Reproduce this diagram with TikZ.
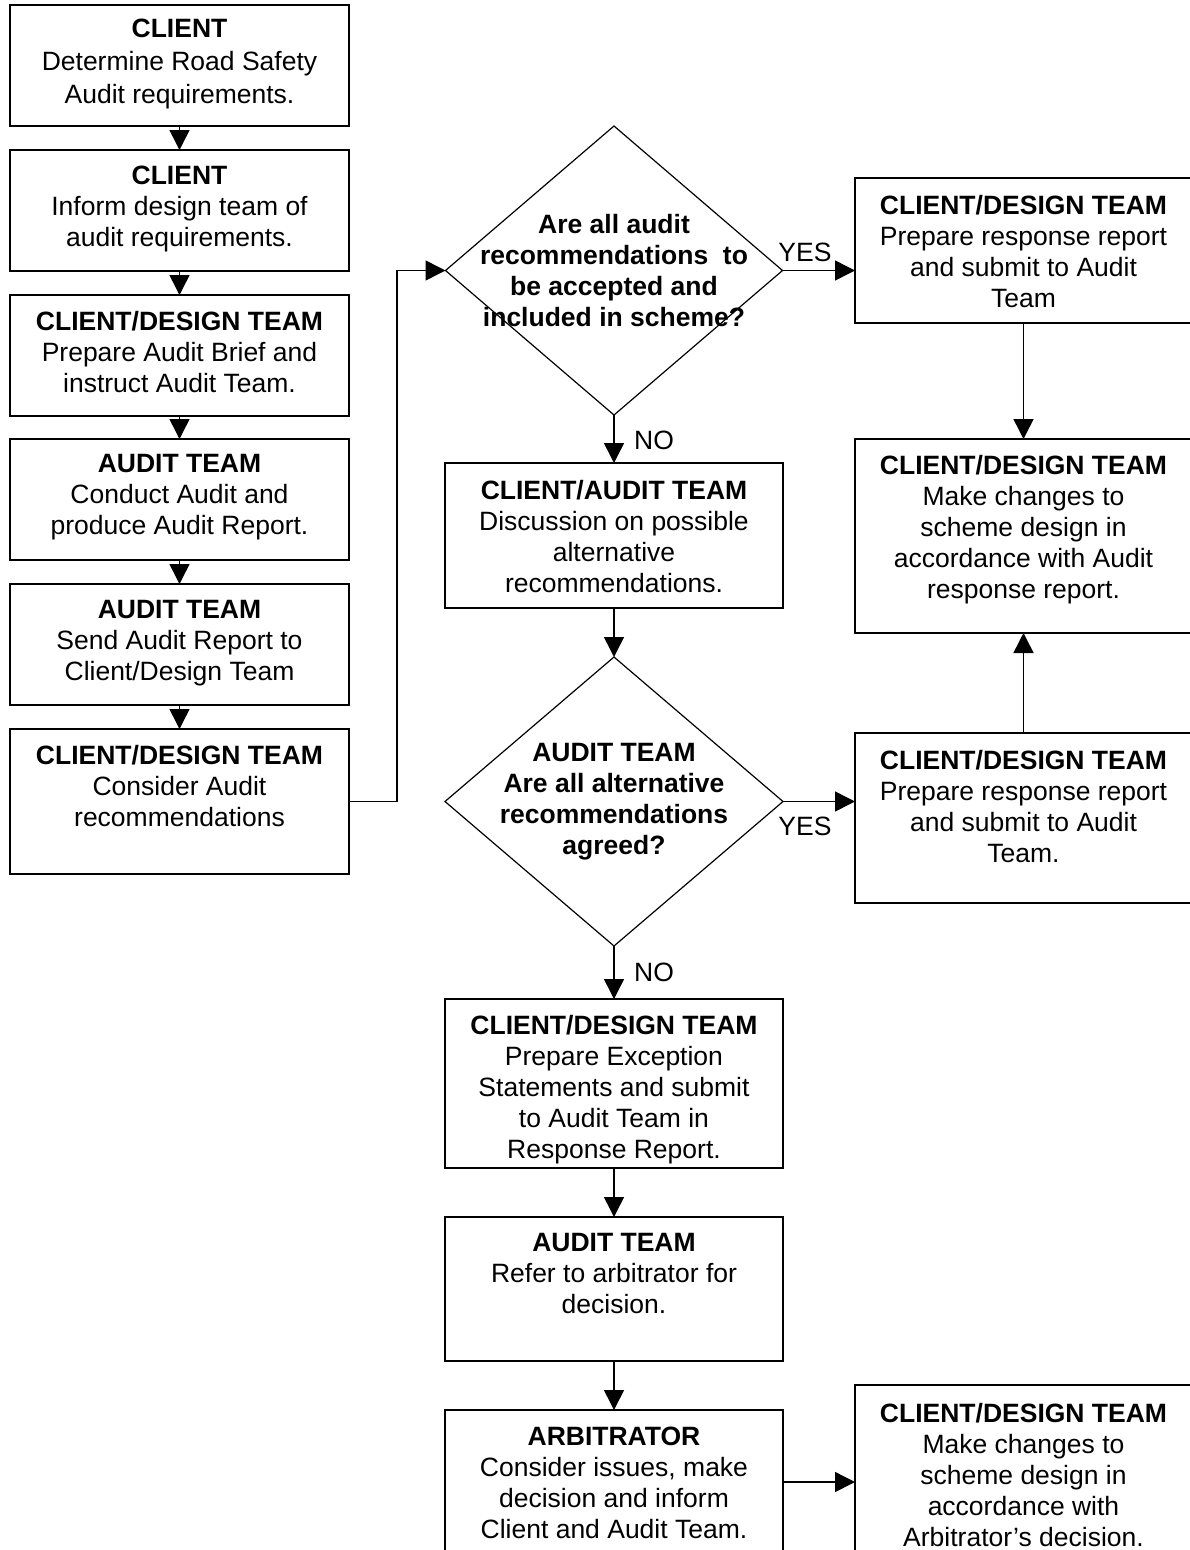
\documentclass[tikz,border=0pt]{standalone}
\usepackage{fontspec}
\setmainfont{Liberation Sans}
\usetikzlibrary{arrows.meta,shapes.geometric}
\tikzset{
  box/.style={draw, line width=1.6pt, inner sep=0pt, outer sep=0pt},
  lbox/.style={box, minimum width=339pt},
  mbox/.style={box, minimum width=338pt},
  rbox/.style={box, minimum width=337pt},
  dec/.style={draw, diamond, line width=1.2pt, inner sep=0pt, outer sep=0pt},
  txt/.style={inner sep=0pt, align=center, font=\fontsize{26.5}{31}\selectfont},
  btxt/.style={txt, font=\fontsize{26.5}{31}\selectfont\bfseries},
  lbl/.style={inner sep=0pt, font=\fontsize{26.5}{31}\selectfont},
  arr/.style={line width=1.5pt, -{Triangle[width=20pt,length=20pt]}},
}
\begin{document}
\begin{tikzpicture}[x=1pt,y=-1pt]
\useasboundingbox (0,0) rectangle (1189,1550);
% left column
\node[lbox, minimum height=121pt] (l1) at (179.5,65.5) {};
\node[lbox, minimum height=121pt] (l2) at (179.5,210.5) {};
\node[lbox, minimum height=121pt] (l3) at (179.5,355.5) {};
\node[lbox, minimum height=121pt] (l4) at (179.5,499.5) {};
\node[lbox, minimum height=121pt] (l5) at (179.5,644.5) {};
\node[lbox, minimum height=145pt] (l6) at (179.5,801.5) {};
% middle column
\node[dec, minimum width=337pt, minimum height=289pt] (d1) at (614,270.5) {};
\node[mbox, minimum height=145pt] (m1) at (614,535.5) {};
\node[dec, minimum width=338pt, minimum height=289pt] (d2) at (614,801.5) {};
\node[mbox, minimum height=169pt] (m2) at (614,1083.5) {};
\node[mbox, minimum height=144pt] (m3) at (614,1289) {};
\node[mbox, minimum height=144pt] (m4) at (614,1482) {};
% right column
\node[rbox, minimum height=145pt] (r1) at (1023.5,250.5) {};
\node[rbox, minimum height=194pt] (r2) at (1023.5,536) {};
\node[rbox, minimum height=170pt] (r3) at (1023.5,818) {};
\node[rbox, minimum height=194pt] (r4) at (1023.5,1482) {};

% texts
\node[txt, anchor=north, font=\fontsize{26.5}{33}\selectfont] (l1t) at ([yshift=-13.5pt]l1.north) {\textbf{CLIENT}\\Determine Road Safety\\Audit requirements.};
\node[txt, anchor=north] (l2t) at ([yshift=-16pt]l2.north) {\textbf{CLIENT}\\Inform design team of\\audit requirements.};
\node[txt, anchor=north] (l3t) at ([yshift=-16pt]l3.north) {\textbf{CLIENT/DESIGN TEAM}\\Prepare Audit Brief and\\instruct Audit Team.};
\node[txt, anchor=north] (l4t) at ([yshift=-15pt]l4.north) {\textbf{AUDIT TEAM}\\Conduct Audit and\\produce Audit Report.};
\node[txt, anchor=north] (l5t) at ([yshift=-16pt]l5.north) {\textbf{AUDIT TEAM}\\Send Audit Report to\\Client/Design Team};
\node[txt, anchor=north] (l6t) at ([yshift=-16pt]l6.north) {\textbf{CLIENT/DESIGN TEAM}\\Consider Audit\\recommendations};
\node[btxt] (d1t) at (d1.center) {Are all audit\\recommendations~ to\\be accepted and\\included in scheme?};
\node[txt, anchor=north] (m1t) at ([yshift=-17pt]m1.north) {\textbf{CLIENT/AUDIT TEAM}\\Discussion on possible\\alternative\\recommendations.};
\node[btxt] (d2t) at (d2.center) {AUDIT TEAM\\Are all alternative\\recommendations\\agreed?};
\node[txt, anchor=north] (m2t) at ([yshift=-16.5pt]m2.north) {\textbf{CLIENT/DESIGN TEAM}\\Prepare Exception\\Statements and submit\\to Audit Team in\\Response Report.};
\node[txt, anchor=north] (m3t) at ([yshift=-16.5pt]m3.north) {\textbf{AUDIT TEAM}\\Refer to arbitrator for\\decision.};
\node[txt, anchor=north] (m4t) at ([yshift=-16.5pt]m4.north) {\textbf{ARBITRATOR}\\Consider issues, make\\decision and inform\\Client and Audit Team.};
\node[txt, anchor=north] (r1t) at ([yshift=-17pt]r1.north) {\textbf{CLIENT/DESIGN TEAM}\\Prepare response report\\and submit to Audit\\Team};
\node[txt, anchor=north] (r2t) at ([yshift=-16.5pt]r2.north) {\textbf{CLIENT/DESIGN TEAM}\\Make changes to\\scheme design in\\accordance with Audit\\response report.};
\node[txt, anchor=north] (r3t) at ([yshift=-17pt]r3.north) {\textbf{CLIENT/DESIGN TEAM}\\Prepare response report\\and submit to Audit\\Team.};
\node[txt, anchor=north] (r4t) at ([yshift=-18pt]r4.north) {\textbf{CLIENT/DESIGN TEAM}\\Make changes to\\scheme design in\\accordance with\\Arbitrator’s decision.};

% connectors
\draw[arr] (l1.south) -- (l2.north);
\draw[arr] (l2.south) -- (l3.north);
\draw[arr] (l3.south) -- (l4.north);
\draw[arr] (l4.south) -- (l5.north);
\draw[arr] (l5.south) -- (l6.north);
\coordinate (j1) at (397,270.5);
\draw[arr] (l6.east) -| (j1) -- (d1.west);
\draw[arr] (d1.east) -- (d1.east -| r1.west);
\draw[arr] (d1.south) -- (m1.north);
\draw[arr] (m1.south) -- (d2.north);
\draw[arr] (r1.south) -- (r2.north);
\draw[arr] (r3.north) -- (r2.south);
\draw[arr] (d2.east) -- (d2.east -| r3.west);
\draw[arr] (d2.south) -- (m2.north);
\draw[arr] (m2.south) -- (m3.north);
\draw[arr] (m3.south) -- (m4.north);
\draw[arr] (m4.east) -- (r4.west);

% labels
\node[lbl] (yes1) at (805,252) {YES};
\node[lbl] (yes2) at (805,826) {YES};
\node[lbl, anchor=west] (no1) at (634,440) {NO};
\node[lbl, anchor=west] (no2) at (634,972) {NO};
\end{tikzpicture}
\end{document}
